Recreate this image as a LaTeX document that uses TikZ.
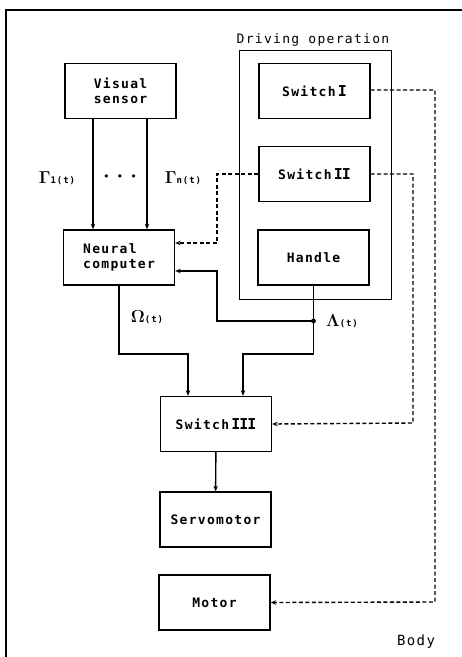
\documentclass[tikz,border=0pt]{standalone}
\usepackage{fontspec}
\setmainfont{DejaVu Sans Mono}[LetterSpace=10]
\usetikzlibrary{arrows.meta}

% greek signal name with a small index, e.g. Gamma_1(t)
\newcommand{\siglab}[2]{{\fontsize{19}{19}\selectfont\boldmath$#1$}{\fontsize{9}{9}\selectfont\bfseries #2}}
\newcommand{\rnum}[1]{\,{\rmfamily\bfseries\fontsize{15}{15}\selectfont #1}}

\begin{document}
\begin{tikzpicture}[x=1pt, y=-1pt, >={Stealth[length=5.5pt,width=4.5pt]},
  line width=1.4pt,
  block/.style={draw, minimum width=111pt, minimum height=55pt, inner sep=1pt,
    align=center, font=\fontsize{13}{15}\selectfont\bfseries},
  ctrl/.style={->, dash pattern=on 4pt off 2.5pt}]
  \useasboundingbox (0,0) rectangle (462,657);
  % body frame (cut at right and bottom)
  \draw[line width=1.8pt] (6,657) -- (6,10) -- (462,10);

  \node[font=\fontsize{13}{15}\selectfont] (drvlab) at (313,40) {Driving operation};
  \draw[line width=1pt] (239,50) rectangle (391,299);

  \node[block] (vis)  at (120.5,91)  {Visual\\sensor};
  \node[block] (sw1)  at (314.5,91)  {Switch\rnum{I}};
  \node[block] (sw2)  at (314.5,174) {Switch\rnum{I\kern-1pt I}};
  \node[block, align=left] (nc) at (119,257.5) {Neural\\computer};
  \node[block] (hdl)  at (313.5,257.5) {Handle};
  \node[block] (sw3)  at (216,424)   {Switch\rnum{I\kern-1pt I\kern-1pt I}};
  \node[block] (srv)  at (215.5,519.5) {Servomotor};
  \node[block] (mot)  at (214.5,602.5) {Motor};

  \node (g1)   at (57,178)  {\siglab{\Gamma}{1(t)}};
  \node[font=\fontsize{11}{11}\selectfont] (dots) at (120,178) {•\hspace{7pt}•\hspace{7pt}•};
  \node (gn)   at (183,178) {\siglab{\Gamma}{n(t)}};
  \node (om)   at (147,317) {\siglab{\Omega}{(t)}};
  \node (la)   at (342,321) {\siglab{\Lambda}{(t)}};
  \node[font=\fontsize{14}{15}\selectfont] (body) at (416,642) {Body};

  % sensor outputs
  \draw[->] ([xshift=-27.5pt]vis.south) -- ([xshift=-27.5pt]vis.south |- nc.north);
  \draw[->] ([xshift=26.5pt]vis.south) -- ([xshift=26.5pt]vis.south |- nc.north);

  % handle signal, branched at the dot
  \coordinate (jn) at (hdl.south |- la);
  \draw[->] (hdl.south) -- (hdl.south |- 0,354) -| ([xshift=27pt]sw3.north);
  \fill (jn) circle (2.4pt);
  \draw[->] (jn) -- (217,321) |- ([yshift=-13.5pt]nc.east);
  \draw[->] (nc.south) |- (188,354) -- ([xshift=-28pt]sw3.north);

  \draw[->] (sw3) -- (srv);

  % switch lines
  \draw[ctrl] (sw2.west) -| (217,243) -- ([yshift=14.5pt]nc.east);
  \draw[ctrl] (sw2.east) -| (413,423) -- (sw3.east);
  \draw[ctrl] ([yshift=1pt]sw1.east) -| (435,602) -- (mot.east);
\end{tikzpicture}
\end{document}
